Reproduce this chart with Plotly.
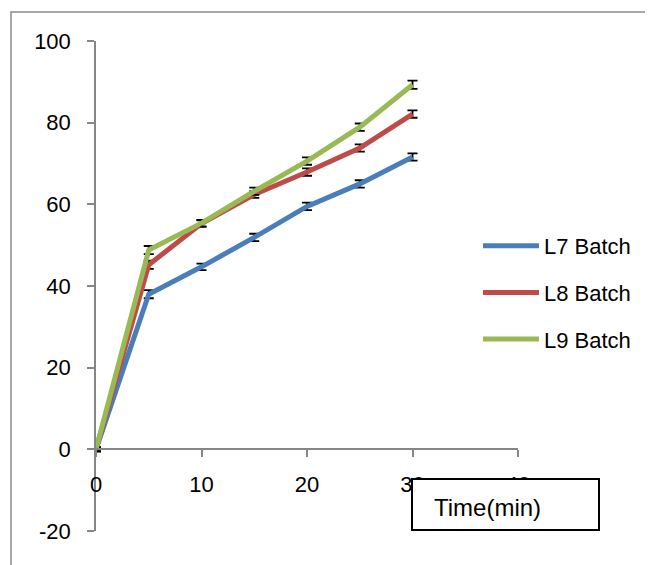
import plotly.graph_objects as go

time_min = [0, 5, 10, 15, 20, 25, 30]
l7 = [0, 38.0, 44.7, 51.9, 59.5, 65.0, 71.6]
l8 = [0, 45.2, 55.3, 62.4, 67.9, 73.8, 82.1]
l9 = [0, 48.8, 55.4, 63.2, 70.6, 78.9, 89.3]
err7 = [0.5, 1.0, 0.8, 0.9, 0.9, 0.9, 0.9]
err8 = [0.5, 1.0, 0.8, 0.8, 0.9, 0.9, 0.9]
err9 = [0.5, 1.0, 0.8, 0.9, 0.9, 0.9, 1.0]
names = ["L7 Batch", "L8 Batch", "L9 Batch"]
colors = ["#4A7EBB", "#BE4B48", "#98B954"]
x_ticks = [0, 10, 20, 30, 40]
y_ticks = [-20, 0, 20, 40, 60, 80, 100]
y_ticktext = ["-20", "0", "20", "40", "60", "80", "100"]

OFF = 8  # page body margin
W, H = 653 - OFF, 565 - OFF
ML, MR, MT, MB = 96 - OFF, 135, 41 - OFF, 34
pw, ph = W - ML - MR, H - MT - MB

def px2paper_x(px):
    return (px - OFF - ML) / pw

def px2paper_y(py):
    return (H - MB - (py - OFF)) / ph

fig = go.Figure()
for name, ys, err, col in zip(names, [l7, l8, l9], [err7, err8, err9], colors):
    fig.add_trace(go.Scatter(
        x=time_min, y=ys, name=name, mode="lines", legendgroup=name,
        line=dict(color=col, width=5),
        error_y=dict(type="data", array=err, visible=True, color="black",
                     thickness=1.8, width=5),
    ))

font = "Liberation Sans, Arial, sans-serif"
fig.update_layout(
    width=W, height=H,
    margin=dict(l=ML, r=MR, t=MT, b=MB),
    paper_bgcolor="white", plot_bgcolor="white",
    font=dict(family=font, size=22, color="black"),
    showlegend=True,
    legend=dict(x=px2paper_x(478), y=px2paper_y(225), xanchor="left", yanchor="top",
                traceorder="grouped", tracegroupgap=15, itemwidth=56,
                font=dict(size=22, family=font), bgcolor="rgba(0,0,0,0)"),
    xaxis=dict(range=[0, 40], tickvals=x_ticks, ticks="outside", ticklen=7,
               tickcolor="#868686", tickwidth=1.5, showline=True,
               linecolor="#868686", linewidth=1.5, showgrid=False, zeroline=False,
               anchor="free", position=20 / 120, ticklabelstandoff=9),
    yaxis=dict(range=[-20, 100], tickvals=y_ticks, ticktext=y_ticktext,
               ticks="outside", ticklen=7,
               tickcolor="#868686", tickwidth=1.5, showline=True,
               linecolor="#868686", linewidth=1.5, showgrid=False, zeroline=False,
               ticklabelstandoff=12),
    shapes=[
        dict(type="rect", xref="paper", yref="paper",
             x0=px2paper_x(11), x1=px2paper_x(700),
             y0=px2paper_y(12), y1=px2paper_y(620),
             line=dict(color="#8C8C8C", width=1.5), fillcolor="rgba(0,0,0,0)",
             layer="below"),
        dict(type="rect", xref="paper", yref="paper",
             x0=px2paper_x(412), x1=px2paper_x(599),
             y0=px2paper_y(479), y1=px2paper_y(530),
             line=dict(color="black", width=2), fillcolor="white", layer="above"),
    ],
    annotations=[
        dict(text="Time(min)", xref="paper", yref="paper",
             x=px2paper_x(432), y=px2paper_y(507), xanchor="left", yanchor="middle",
             showarrow=False, font=dict(size=24, family=font, color="black")),
    ],
)

fig.write_html("out.html")
